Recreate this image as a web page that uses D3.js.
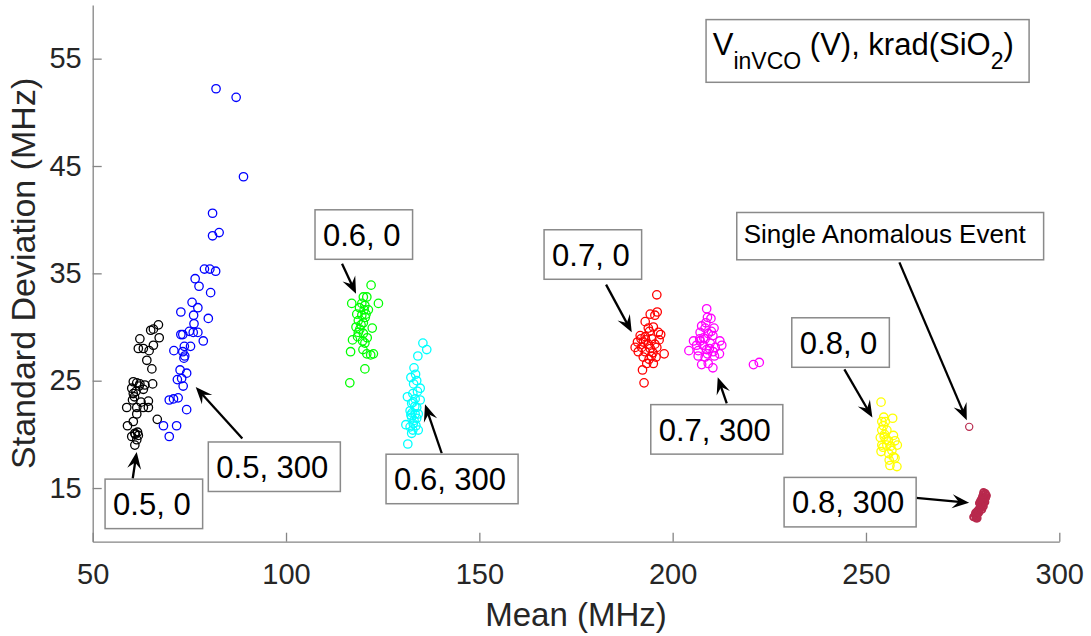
<!DOCTYPE html>
<html>
<head>
<meta charset="utf-8">
<script src="https://cdn.jsdelivr.net/npm/d3@7"></script>
<style>
    body { margin: 0; background: #fff; }
    svg { display: block; font-family: "Liberation Sans", Arial, Helvetica, sans-serif; }
</style>
</head>
<body>
<svg id="chart" width="1091" height="636"></svg>
<script>
// Measured points, [mean (MHz), standard deviation (MHz)]
const black05_0 = [
    [67.0, 30.2], [65.7, 29.8], [65.0, 29.7], [67.2, 29.0], [62.2, 28.9], [65.7, 28.3], [61.8, 28.0],
    [63.1, 28.0], [64.6, 27.8], [64.0, 26.9], [65.3, 26.1], [60.5, 24.9], [61.4, 24.8], [62.2, 24.7],
    [63.5, 24.6], [65.5, 24.7], [60.1, 24.3], [63.1, 24.2], [60.5, 23.8], [60.3, 23.2], [64.4, 23.1],
    [58.8, 22.5], [61.4, 22.5], [63.1, 22.5], [64.4, 22.5], [61.4, 21.9], [66.7, 21.4], [60.5, 21.2],
    [59.0, 20.8], [60.9, 20.1], [61.8, 19.9], [60.1, 19.8], [61.4, 19.5], [60.9, 19.0], [61.0, 20.0],
    [61.6, 20.2], [62.0, 24.5], [60.8, 23.5], [62.5, 23.0], [61.2, 24.0]
];
const blue05_300 = [
    [81.9, 52.2], [87.1, 51.4], [89.0, 44.0], [81.0, 40.6], [81.0, 38.5], [82.7, 38.8], [78.9, 35.4],
    [80.3, 35.4], [81.8, 35.2], [76.5, 34.5], [77.5, 33.8], [80.5, 33.2], [75.7, 32.3], [77.2, 31.8],
    [72.8, 31.4], [76.1, 31.1], [79.9, 30.8], [76.2, 30.3], [72.8, 29.3], [73.3, 29.3], [76.0, 29.5],
    [77.2, 29.5], [78.6, 28.7], [71.0, 27.8], [73.7, 28.2], [75.3, 28.2], [73.3, 27.7], [73.6, 27.1],
    [72.6, 26.0], [74.3, 25.7], [71.9, 25.1], [73.0, 25.2], [73.4, 24.5], [69.8, 23.2], [70.9, 23.3],
    [72.1, 23.4], [74.3, 22.3], [68.3, 20.8], [71.7, 20.8], [69.8, 19.8], [73.8, 27.3], [75.0, 29.6]
];
const green06_0 = [
    [122.0, 33.9], [120.0, 32.8], [120.9, 32.8], [117.0, 32.2], [119.6, 32.2], [120.4, 32.0], [123.9, 32.2],
    [121.3, 31.6], [118.3, 31.2], [119.6, 31.1], [120.7, 31.2], [118.7, 30.6], [120.0, 30.4], [118.1, 30.0],
    [119.1, 29.8], [122.3, 29.9], [118.7, 29.5], [120.0, 29.4], [117.2, 28.8], [119.8, 28.7], [120.4, 28.5],
    [116.7, 27.7], [120.9, 27.5], [121.9, 27.4], [122.6, 27.5], [120.4, 26.1], [116.5, 24.8], [119.0, 31.8],
    [120.5, 30.9], [119.4, 30.2], [118.5, 29.1], [121.0, 29.0], [119.9, 27.9], [120.2, 31.6]
];
const cyan06_300 = [
    [135.4, 28.5], [136.4, 27.9], [134.1, 27.3], [133.1, 26.2], [132.3, 25.3], [133.8, 25.0], [134.7, 24.3],
    [131.4, 23.5], [133.4, 23.3], [134.7, 23.2], [132.5, 22.9], [133.8, 22.5], [132.1, 22.2], [133.4, 21.9],
    [132.5, 21.6], [133.8, 21.5], [131.0, 20.9], [132.9, 21.0], [132.1, 20.7], [134.2, 20.4], [132.5, 20.1],
    [131.5, 19.1], [133.0, 24.7], [134.0, 24.0], [132.8, 23.8], [133.3, 22.6], [132.6, 22.0], [133.1, 21.3],
    [132.3, 21.8], [133.6, 20.8], [132.9, 23.0], [134.2, 21.9], [133.5, 25.6], [132.8, 20.4]
];
const red07_0 = [
    [195.9, 33.0], [194.2, 31.2], [195.4, 31.1], [196.0, 31.4], [192.9, 30.5], [193.7, 29.9], [196.3, 29.5],
    [196.9, 29.3], [191.6, 29.2], [192.9, 29.1], [194.6, 28.9], [190.9, 28.6], [192.4, 28.6], [193.7, 28.4],
    [195.4, 28.4], [190.3, 28.1], [192.0, 28.1], [194.2, 28.0], [195.9, 28.1], [191.1, 27.7], [192.9, 27.7],
    [194.9, 27.6], [197.8, 27.5], [192.4, 27.2], [193.9, 27.0], [195.7, 27.2], [193.3, 26.6], [195.0, 26.6],
    [192.2, 26.0], [192.6, 24.8], [194.0, 29.6], [195.0, 30.0], [193.0, 28.8], [196.5, 28.8], [194.5, 27.3],
    [191.8, 28.9]
];
const magenta07_300 = [
    [208.8, 31.7], [209.0, 30.9], [209.9, 30.8], [207.5, 30.1], [208.4, 29.9], [210.7, 29.9], [207.1, 29.5],
    [209.2, 29.4], [210.4, 29.2], [205.4, 28.7], [207.1, 28.7], [208.4, 28.9], [212.2, 28.7], [209.7, 28.5],
    [206.2, 28.3], [207.9, 28.3], [211.0, 28.1], [212.7, 28.3], [204.2, 27.8], [206.6, 27.8], [208.8, 27.9],
    [210.5, 27.7], [212.1, 27.5], [206.6, 27.3], [208.4, 27.2], [210.8, 27.3], [207.5, 26.5], [209.2, 26.6],
    [210.4, 26.2], [220.9, 26.5], [222.4, 26.7], [208.0, 29.0], [209.5, 28.0], [207.0, 28.9], [210.0, 29.6],
    [208.6, 30.4], [209.0, 27.5]
];
const yellow08_0 = [
    [253.9, 23.0], [256.9, 21.5], [254.1, 21.2], [255.0, 21.2], [254.5, 20.8], [254.1, 20.4], [255.4, 20.4],
    [253.7, 19.7], [254.7, 19.8], [257.1, 19.9], [255.8, 19.4], [257.5, 19.4], [254.1, 19.0], [255.4, 19.0],
    [258.1, 19.0], [253.9, 18.4], [256.7, 18.5], [257.1, 17.9], [257.5, 17.8], [256.2, 17.1], [258.0, 17.0],
    [254.8, 20.0], [255.2, 19.5], [254.4, 18.8], [255.9, 18.2], [256.4, 18.9], [254.6, 21.6], [256.0, 17.6]
];
const crimson08_300 = [
    [280.4, 14.6], [281.2, 14.3], [279.9, 14.0], [280.8, 13.7], [279.3, 13.6], [280.4, 13.3], [279.1, 13.0],
    [278.7, 12.8], [278.2, 12.5], [277.8, 12.3], [278.5, 12.2], [280.9, 14.5], [280.1, 14.2], [280.6, 14.0],
    [279.6, 13.8], [280.2, 13.5], [279.8, 13.2], [279.4, 13.1], [278.9, 12.6], [279.0, 12.9], [278.3, 12.7],
    [280.7, 13.9], [279.7, 13.4], [278.6, 12.4], [280.0, 13.0], [281.0, 14.1], [279.5, 13.5], [278.8, 12.2],
    [280.3, 14.4], [279.2, 12.7]
];
const anomaly = [[276.7, 20.7]];

const xTicks = [50, 100, 150, 200, 250, 300];
const yTicks = [15, 25, 35, 45, 55];

// Call-out boxes, anchored in data units: box top-left, arrow tail, arrow tip
const callouts = [
    { text: '0.5, 0',   box: [53.2, 15.83],   from: [60.35, 15.89],  to: [61.38, 18.36] },
    { text: '0.5, 300', box: [79.9, 19.29],   from: [88.7, 19.61],   to: [76.64, 24.41] },
    { text: '0.6, 0',   box: [107.5, 40.92],  from: [114.49, 35.9],  to: [118.11, 33.09] },
    { text: '0.6, 300', box: [125.87, 18.15], from: [140.27, 18.24], to: [135.95, 22.8] },
    { text: '0.7, 0',   box: [166.74, 39.06], from: [182.78, 33.95], to: [189.42, 29.52] },
    { text: '0.7, 300', box: [194.34, 22.77], from: [213.99, 22.89], to: [211.66, 25.33] },
    { text: '0.8, 0',   box: [230.81, 30.86], from: [244.41, 26.05], to: [251.66, 21.56] },
    { text: '0.8, 300', box: [228.82, 15.99], from: [262.96, 14.09], to: [276.67, 13.62] },
    { text: 'Single Anomalous Event', small: true, box: [216.58, 40.67], from: [258.64, 36.02], to: [276.07, 21.31] }
];

const series = [
    { data: black05_0, color: '#000000', r: 4.2, sw: 1.3 },
    { data: blue05_300, color: '#0000ff', r: 4.2, sw: 1.3 },
    { data: green06_0, color: '#00ff00', r: 4.2, sw: 1.3 },
    { data: cyan06_300, color: '#00ffff', r: 4.2, sw: 1.3 },
    { data: red07_0, color: '#ff0000', r: 4.2, sw: 1.3 },
    { data: magenta07_300, color: '#ff00ff', r: 4.2, sw: 1.3 },
    { data: yellow08_0, color: '#ffff00', r: 4.2, sw: 1.3 },
    { data: crimson08_300, color: '#b8294d', r: 3.3, sw: 2 },
    { data: anomaly, color: '#b8294d', r: 3.6, sw: 1.2 }
];

const margin = { top: 5, right: 31.7, bottom: 94.3, left: 92.7 };
const width = 1091, height = 636;

const svg = d3.select('#chart');
svg.append('rect').attr('width', width).attr('height', height).attr('fill', '#fff');

const x = d3.scaleLinear().domain([50, 300]).range([margin.left, width - margin.right]);
const y = d3.scaleLinear().domain([10, 60]).range([height - margin.bottom, margin.top]);

// Axes (MATLAB style: inward ticks, no box)
const gx = svg.append('g')
    .attr('transform', `translate(0,${y(10)})`)
    .call(d3.axisBottom(x).tickValues(xTicks).tickSizeInner(-9).tickSizeOuter(0).tickPadding(21.7));
const gy = svg.append('g')
    .attr('transform', `translate(${x(50)},0)`)
    .call(d3.axisLeft(y).tickValues(yTicks).tickSizeInner(-9).tickSizeOuter(0).tickPadding(11));

[gx, gy].forEach(g => {
    g.attr('font-family', null).attr('font-size', null);
    g.select('.domain').attr('stroke', '#858585').attr('stroke-width', 1.3);
    g.selectAll('.tick line').attr('stroke', '#858585').attr('stroke-width', 1.3);
    g.selectAll('.tick text').attr('fill', '#262626').style('font-size', '29px');
});

svg.append('text')
    .attr('x', (x(50) + x(300)) / 2)
    .attr('y', 626)
    .attr('text-anchor', 'middle')
    .attr('fill', '#262626')
    .style('font-size', '33px')
    .text('Mean (MHz)');

svg.append('text')
    .attr('transform', `translate(35,${(y(10) + y(60)) / 2}) rotate(-90)`)
    .attr('text-anchor', 'middle')
    .attr('fill', '#262626')
    .style('font-size', '34px')
    .text('Standard Deviation (MHz)');

// Scatter markers
series.forEach(s => {
    svg.append('g')
        .selectAll('circle')
        .data(s.data)
        .join('circle')
        .attr('cx', d => x(d[0]))
        .attr('cy', d => y(d[1]))
        .attr('r', s.r)
        .attr('fill', 'none')
        .attr('stroke', s.color)
        .attr('stroke-width', s.sw);
});

// Legend-like title box
const title = svg.append('g');
const titleText = title.append('text')
    .attr('x', x(208.64) + 6.7)
    .attr('y', y(58.64) + 35)
    .attr('fill', '#000')
    .style('font-size', '31px');
titleText.append('tspan').text('V');
titleText.append('tspan').attr('dy', 14).style('font-size', '23px').text('inVCO');
titleText.append('tspan').attr('dy', -14).text(' (V), krad(SiO');
titleText.append('tspan').attr('dy', 14).style('font-size', '23px').text('2');
titleText.append('tspan').attr('dy', -14).text(')');
const tb = titleText.node().getBBox();
title.insert('rect', 'text')
    .attr('x', x(208.64))
    .attr('y', y(58.64))
    .attr('width', tb.width + 22)
    .attr('height', 62.7)
    .attr('fill', '#fff')
    .attr('stroke', '#8a8a8a')
    .attr('stroke-width', 1.5);

// Arrow call-outs
function arrowHead(tx, ty, fx, fy) {
    const len = Math.hypot(tx - fx, ty - fy);
    const ux = (tx - fx) / len, uy = (ty - fy) / len;
    const nx = -uy, ny = ux;
    const L = 17, W = 14;
    return `M${tx},${ty}` +
        `L${tx - L * ux + W / 2 * nx},${ty - L * uy + W / 2 * ny}` +
        `L${tx - L * 0.62 * ux},${ty - L * 0.62 * uy}` +
        `L${tx - L * ux - W / 2 * nx},${ty - L * uy - W / 2 * ny}Z`;
}

callouts.forEach(c => {
    const g = svg.append('g');
    const fx = x(c.from[0]), fy = y(c.from[1]);
    const tx = x(c.to[0]), ty = y(c.to[1]);
    const len = Math.hypot(tx - fx, ty - fy);
    const ex = tx - (tx - fx) / len * 10, ey = ty - (ty - fy) / len * 10;
    g.append('line')
        .attr('x1', fx).attr('y1', fy)
        .attr('x2', ex).attr('y2', ey)
        .attr('stroke', '#000')
        .attr('stroke-width', 2.3);
    g.append('path').attr('d', arrowHead(tx, ty, fx, fy)).attr('fill', '#000');

    const bx = x(c.box[0]), by = y(c.box[1]);
    const fontSize = c.small ? 26 : 31;
    const boxH = c.small ? 47.3 : 49.5;
    const label = g.append('text')
        .attr('x', bx + (c.small ? 7 : 8))
        .attr('y', by + (c.small ? 30.8 : 36))
        .attr('fill', '#000')
        .style('font-size', fontSize + 'px')
        .text(c.text);
    const w = label.node().getComputedTextLength();
    g.insert('rect', 'text')
        .attr('x', bx).attr('y', by)
        .attr('width', w + (c.small ? 25 : 20))
        .attr('height', boxH)
        .attr('fill', '#fff')
        .attr('stroke', '#8a8a8a')
        .attr('stroke-width', 1.5);
});
</script>
</body>
</html>
